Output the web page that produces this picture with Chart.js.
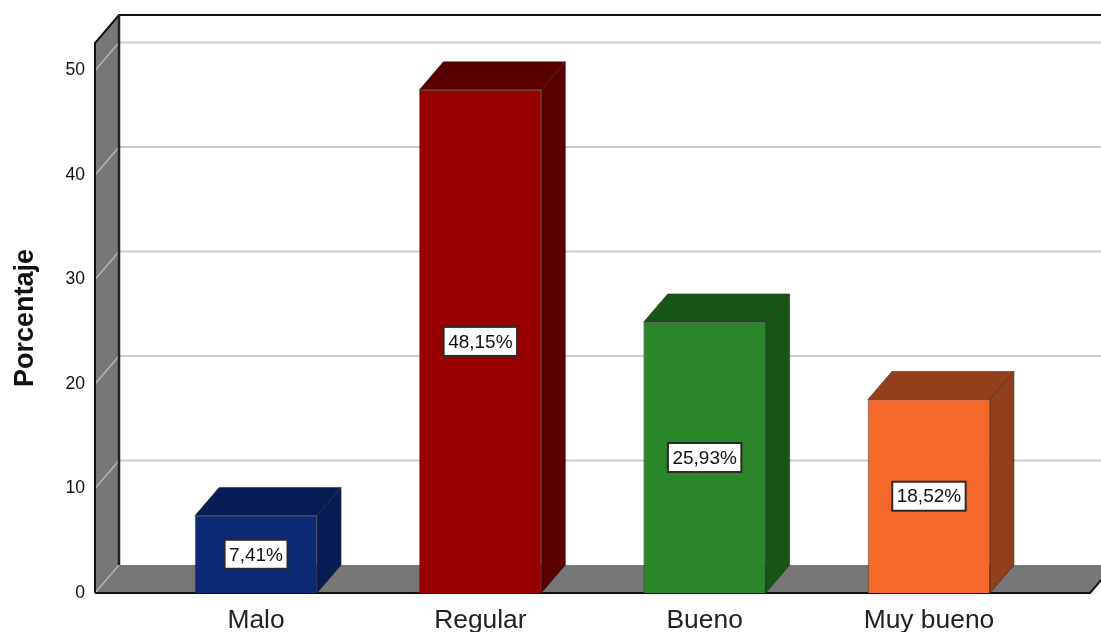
<!DOCTYPE html>
<html>
<head>
<meta charset="utf-8">
<script src="https://cdn.jsdelivr.net/npm/chart.js@4/dist/chart.umd.min.js"></script>
<style>
  html, body { margin: 0; padding: 0; background: #fff; overflow: hidden; }
  canvas { display: block; }
</style>
</head>
<body>
<canvas id="grafico" width="1101" height="632"></canvas>
<script>
// datos
const categorias = ["Malo", "Regular", "Bueno", "Muy bueno"];
const porcentajes = [7.41, 48.15, 25.93, 18.52];
const ticksY = [0, 10, 20, 30, 40, 50];
const coloresFrente = ["#0b2a73", "#990000", "#2a852b", "#f4692b"];
const coloresSombra = ["#061c54", "#5a0000", "#175418", "#933f1b"];

// profundidad del efecto 3D
const DX = 24;
const DY = -28;

const pared3d = {
  id: "pared3d",
  beforeDatasetsDraw(chart) {
    const { ctx, chartArea: a, scales: { y } } = chart;
    ctx.save();

    // pared izquierda
    ctx.fillStyle = "#777777";
    ctx.beginPath();
    ctx.moveTo(a.left, a.top);
    ctx.lineTo(a.left + DX, a.top + DY);
    ctx.lineTo(a.left + DX, a.bottom + DY);
    ctx.lineTo(a.left, a.bottom);
    ctx.closePath();
    ctx.fill();

    // piso
    ctx.beginPath();
    ctx.moveTo(a.left, a.bottom);
    ctx.lineTo(a.left + DX, a.bottom + DY);
    ctx.lineTo(a.right + DX, a.bottom + DY);
    ctx.lineTo(a.right, a.bottom);
    ctx.closePath();
    ctx.fill();

    // lineas de cuadricula, sobre la pared y el fondo
    ticksY.forEach((t) => {
      const py = y.getPixelForValue(t);
      ctx.lineWidth = 1.5;
      ctx.strokeStyle = "#b4b4b4";
      ctx.beginPath();
      ctx.moveTo(a.left, py);
      ctx.lineTo(a.left + DX, py + DY);
      ctx.stroke();
      if (t > 0) {
        ctx.lineWidth = 2;
        ctx.strokeStyle = "#cccccc";
        ctx.beginPath();
        ctx.moveTo(a.left + DX, py + DY);
        ctx.lineTo(a.right + DX, py + DY);
        ctx.stroke();
      }
    });

    // bordes
    ctx.strokeStyle = "#111111";
    ctx.lineWidth = 2;
    ctx.beginPath();
    ctx.moveTo(a.left, a.bottom);
    ctx.lineTo(a.left, a.top);
    ctx.lineTo(a.left + DX, a.top + DY);
    ctx.lineTo(a.right + DX, a.top + DY);
    ctx.stroke();
    ctx.lineWidth = 2.5;
    ctx.strokeStyle = "#222222";
    ctx.beginPath();
    ctx.moveTo(a.left + DX, a.top + DY);
    ctx.lineTo(a.left + DX, a.bottom + DY);
    ctx.stroke();
    ctx.lineWidth = 2;
    ctx.strokeStyle = "#111111";
    ctx.beginPath();
    ctx.moveTo(a.left, a.bottom);
    ctx.lineTo(a.right, a.bottom);
    ctx.lineTo(a.right + DX, a.bottom + DY);
    ctx.stroke();

    ctx.restore();
  },
  afterDatasetsDraw(chart) {
    const { ctx } = chart;
    const barras = chart.getDatasetMeta(0).data;
    ctx.save();
    barras.forEach((b, i) => {
      const izq = b.x - b.width / 2;
      const der = b.x + b.width / 2;

      // cara superior y lateral
      ctx.fillStyle = coloresSombra[i];
      ctx.strokeStyle = "rgba(40,40,40,0.55)";
      ctx.lineWidth = 1;
      ctx.beginPath();
      ctx.moveTo(izq, b.y);
      ctx.lineTo(izq + DX, b.y + DY);
      ctx.lineTo(der + DX, b.y + DY);
      ctx.lineTo(der, b.y);
      ctx.closePath();
      ctx.fill();
      ctx.stroke();
      ctx.beginPath();
      ctx.moveTo(der, b.y);
      ctx.lineTo(der + DX, b.y + DY);
      ctx.lineTo(der + DX, b.base + DY);
      ctx.lineTo(der, b.base);
      ctx.closePath();
      ctx.fill();
      ctx.stroke();

      // etiqueta de porcentaje
      const texto = porcentajes[i].toFixed(2).replace(".", ",") + "%";
      ctx.font = '19px "Liberation Sans", Arial, sans-serif';
      const ancho = ctx.measureText(texto).width + 9;
      const alto = 29;
      const cy = (b.y + b.base) / 2;
      ctx.fillStyle = "#ffffff";
      ctx.fillRect(b.x - ancho / 2, cy - alto / 2, ancho, alto);
      ctx.strokeStyle = "#2b2b2b";
      ctx.lineWidth = 2;
      ctx.strokeRect(b.x - ancho / 2, cy - alto / 2, ancho, alto);
      ctx.fillStyle = "#111111";
      ctx.textAlign = "center";
      ctx.textBaseline = "middle";
      ctx.fillText(texto, b.x, cy + 1);
    });
    ctx.restore();
  },
};

new Chart(document.getElementById("grafico"), {
  type: "bar",
  data: {
    datasets: [
      {
        label: "Porcentaje",
        data: porcentajes.map((v, i) => ({ x: i, y: v })),
        backgroundColor: coloresFrente,
        borderColor: "rgba(40,40,40,0.6)",
        borderWidth: 1,
        barThickness: 122,
      },
    ],
  },
  options: {
    responsive: false,
    animation: false,
    layout: { padding: { top: 43, right: 11, left: 0, bottom: 0 } },
    plugins: { legend: { display: false }, tooltip: { enabled: false } },
    scales: {
      x: {
        type: "linear",
        offset: false,
        min: -0.718,
        max: 3.718,
        grid: { display: false },
        border: { display: false },
        afterBuildTicks: (scale) => {
          scale.ticks = categorias.map((c, i) => ({ value: i }));
        },
        afterFit: (scale) => {
          scale.height = 39;
        },
        ticks: {
          autoSkip: false,
          maxRotation: 0,
          padding: 4,
          color: "#222222",
          font: { family: '"Liberation Sans", Arial, sans-serif', size: 26.4 },
          callback: (v) => categorias[v],
        },
      },
      y: {
        min: 0,
        max: 52.63,
        grid: { display: false },
        border: { display: false },
        afterBuildTicks: (scale) => {
          scale.ticks = ticksY.map((t) => ({ value: t }));
        },
        afterFit: (scale) => {
          scale.width = 95;
        },
        title: {
          display: true,
          text: "Porcentaje",
          color: "#111111",
          padding: { top: 9, bottom: 0 },
          font: { family: '"Liberation Sans", Arial, sans-serif', size: 27, weight: "bold" },
        },
        ticks: {
          padding: 2,
          color: "#111111",
          font: { family: '"Liberation Sans", Arial, sans-serif', size: 17.5 },
        },
      },
    },
  },
  plugins: [pared3d],
});
</script>
</body>
</html>
